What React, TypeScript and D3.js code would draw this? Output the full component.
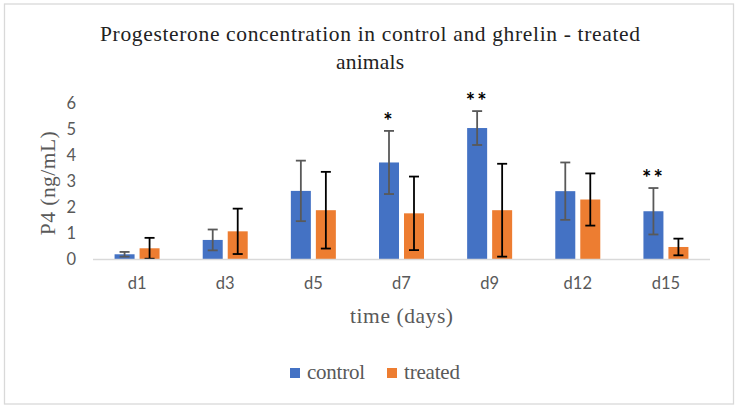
import { scaleBand, scaleLinear } from 'd3';

const categories = ['d1', 'd3', 'd5', 'd7', 'd9', 'd12', 'd15'];
const controlMean = [0.2, 0.75, 2.63, 3.72, 5.04, 2.62, 1.85];
const controlErr = [0.09, 0.4, 1.16, 1.21, 0.65, 1.1, 0.89];
const treatedMean = [0.43, 1.08, 1.89, 1.77, 1.89, 2.3, 0.48];
const treatedErr = [0.4, 0.87, 1.47, 1.41, 1.78, 1.0, 0.32];
const controlStars = ['', '', '', '*', '**', '', '**'];
const yTicks = [0, 1, 2, 3, 4, 5, 6];

const series = [
  { key: 'control', name: 'control', color: '#4472C4', errColor: '#595959', mean: controlMean, err: controlErr, legendW: 58 },
  { key: 'treated', name: 'treated', color: '#ED7D31', errColor: '#000000', mean: treatedMean, err: treatedErr, legendW: 56 },
];

const W = 740;
const H = 409;
const plot = { left: 93, right: 710, top: 103, bottom: 259.5 };
const serif = '"Palatino Linotype", "Book Antiqua", Palatino, "Liberation Serif", serif';
const sans = 'Lato, "Open Sans", sans-serif';

export default function App() {
  const x = scaleBand<string>().domain(categories).range([plot.left, plot.right]);
  const y = scaleLinear().domain([0, 6]).range([plot.bottom, plot.top]);
  const groupW = 45;
  const inner = scaleBand<string>()
    .domain(series.map((s) => s.key))
    .range([0, groupW])
    .paddingInner(0.2);
  const capW = 10;

  return (
    <div style={{ position: 'fixed', left: 0, top: 0 }}>
      <svg width={W} height={H} style={{ display: 'block', background: '#fff' }}>
        <rect x={4.5} y={4} width={729} height={400} fill="#fff" stroke="#d9d9d9" strokeWidth={1.3} />

        {/* Title */}
        <text x={370} y={41} textAnchor="middle" fontFamily={serif} fontSize={21.5} fill="#222" textLength={540} lengthAdjust="spacing">
          Progesterone concentration in control and ghrelin - treated
        </text>
        <text x={370} y={69} textAnchor="middle" fontFamily={serif} fontSize={21.5} fill="#222" textLength={68} lengthAdjust="spacing">
          animals
        </text>

        {/* Y ticks */}
        {yTicks.map((t) => (
          <text key={t} x={76} y={y(t)} dy="0.35em" textAnchor="end" fontFamily={sans} fontSize={16.5} fill="#595959">
            {t}
          </text>
        ))}

        {/* Y title */}
        <text
          transform={`translate(55,${(plot.top + plot.bottom) / 2 + 2}) rotate(-90)`}
          textAnchor="middle"
          fontFamily={serif}
          fontSize={21.5}
          fill="#595959"
          textLength={104}
          lengthAdjust="spacing"
        >
          P4 (ng/mL)
        </text>

        {/* Bars + error bars */}
        {categories.map((c, i) => {
          const gx = (x(c) ?? 0) + x.bandwidth() / 2 - groupW / 2;
          return (
            <g key={c}>
              {series.map((s) => {
                const bx = gx + (inner(s.key) ?? 0);
                const cx = bx + inner.bandwidth() / 2;
                const v = s.mean[i];
                const e = s.err[i];
                return (
                  <g key={s.key}>
                    <rect x={bx} y={y(v)} width={inner.bandwidth()} height={y(0) - y(v)} fill={s.color} />
                    <g stroke={s.errColor} strokeWidth={1.8}>
                      <line x1={cx} x2={cx} y1={y(v + e)} y2={y(v - e)} />
                      <line x1={cx - capW / 2} x2={cx + capW / 2} y1={y(v + e)} y2={y(v + e)} />
                      <line x1={cx - capW / 2} x2={cx + capW / 2} y1={y(v - e)} y2={y(v - e)} />
                    </g>
                    {s.key === 'control' && controlStars[i] && (
                      <text
                        x={cx}
                        y={y(v + e) - 2}
                        textAnchor="middle"
                        fontFamily={sans}
                        fontSize={22}
                        fontWeight={700}
                        letterSpacing={2}
                        fill="#000"
                      >
                        {controlStars[i]}
                      </text>
                    )}
                  </g>
                );
              })}
            </g>
          );
        })}

        {/* X axis */}
        <line x1={plot.left} x2={plot.right} y1={y(0)} y2={y(0)} stroke="#d9d9d9" strokeWidth={1.3} />
        {categories.map((c) => (
          <text
            key={c}
            x={(x(c) ?? 0) + x.bandwidth() / 2}
            y={289}
            textAnchor="middle"
            fontFamily={sans}
            fontSize={16.5}
            fill="#595959"
          >
            {c}
          </text>
        ))}

        <text
          x={(plot.left + plot.right) / 2}
          y={323}
          textAnchor="middle"
          fontFamily={serif}
          fontSize={21.5}
          fill="#595959"
          textLength={103}
          lengthAdjust="spacing"
        >
          time (days)
        </text>

        {/* Legend */}
        {series.map((s, k) => {
          const lx = k === 0 ? 290 : 387;
          return (
            <g key={s.key}>
              <rect x={lx} y={368} width={10} height={10} fill={s.color} />
              <text x={lx + 17} y={379} fontFamily={serif} fontSize={21} fill="#595959" textLength={s.legendW} lengthAdjust="spacing">
                {s.name}
              </text>
            </g>
          );
        })}
      </svg>
    </div>
  );
}
